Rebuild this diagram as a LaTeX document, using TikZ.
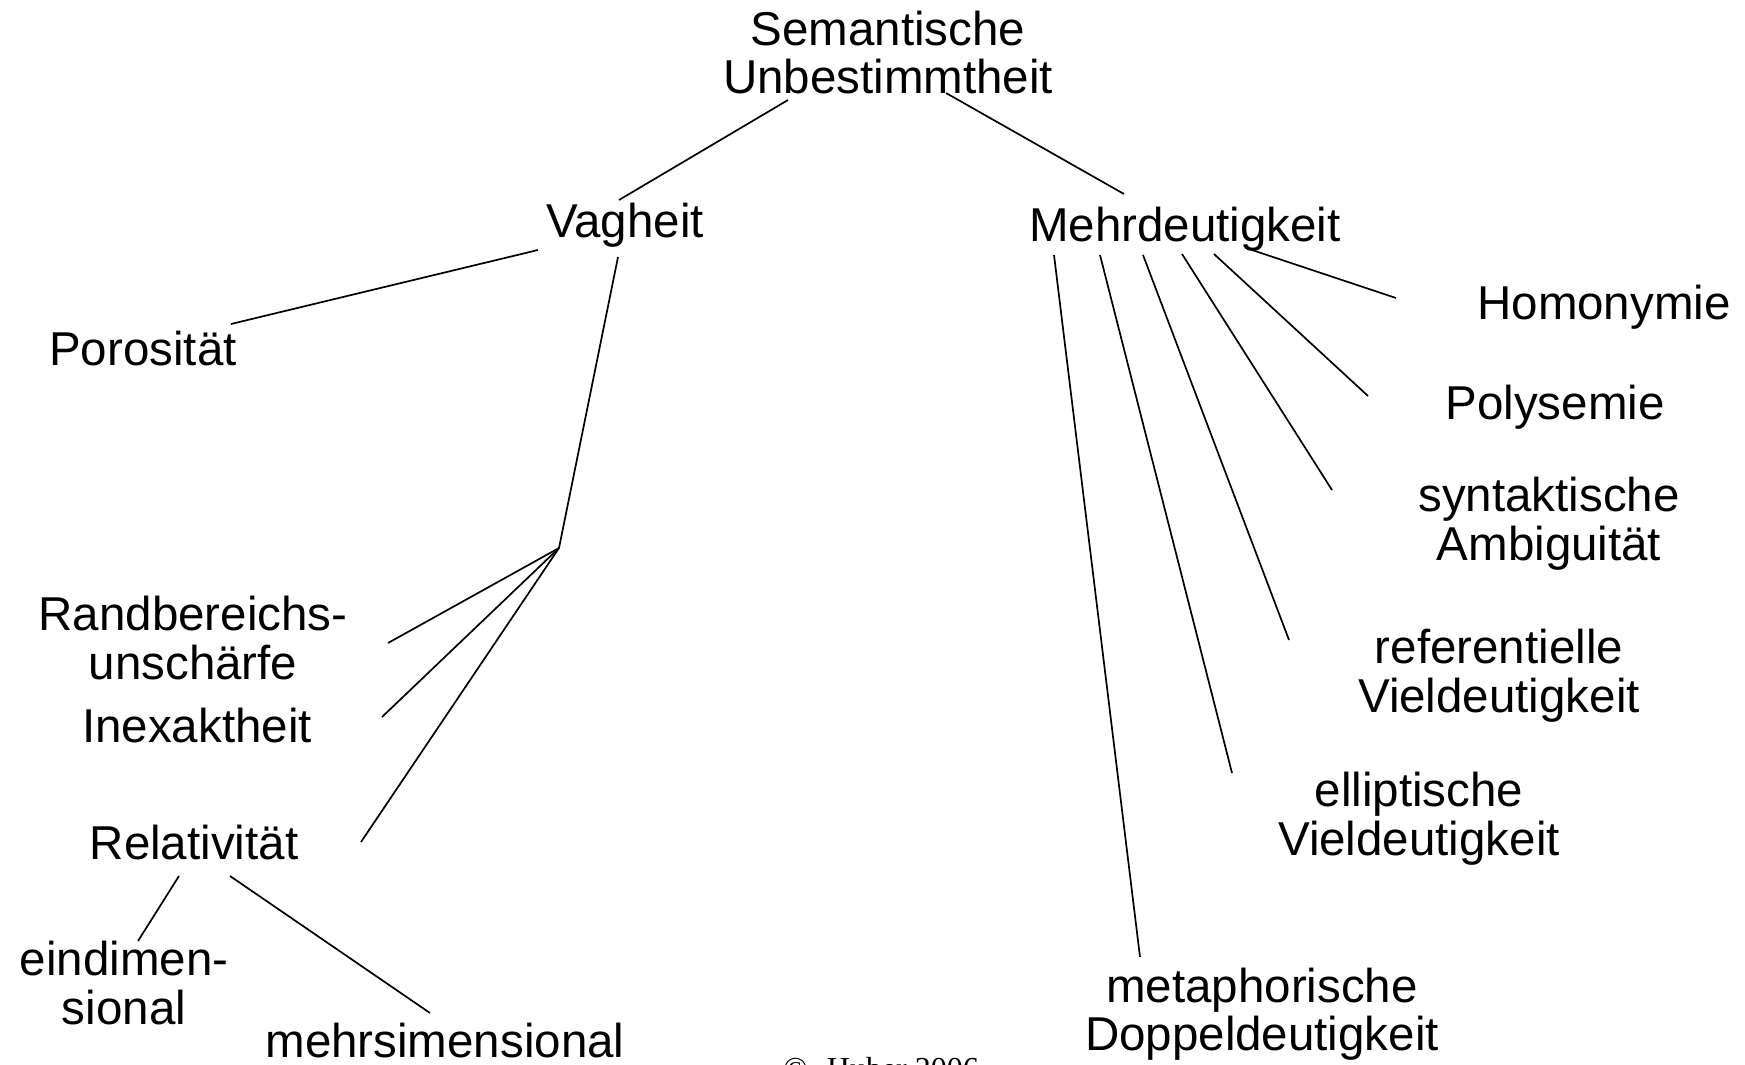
\documentclass[tikz,border=0pt]{standalone}
\usepackage{fontspec}
\setmainfont{Liberation Sans}
\newfontfamily\serifcopy{Liberation Serif}
\begin{document}
\begin{tikzpicture}[x=0.5pt,y=-0.5pt,
  lbl/.style={inner sep=0pt, outer sep=0pt, anchor=base, align=center,
    font=\fontsize{23.75}{24.25}\selectfont},
  edge/.style={line width=0.85pt}]
\useasboundingbox (0,0) rectangle (1745,1065);
\clip (0,0) rectangle (1745,1065);
\fill[white] (0,0) rectangle (1745,1065);

% nodes (positioned by baseline of last line)
\node[lbl] (root) at (888,93.5) {Semantische\\Unbestimmtheit};
\node[lbl] (vag)  at (625,237) {Vagheit};
\node[lbl] (mehr) at (1185,241.5) {Mehrdeutigkeit};
\node[lbl] (poro) at (143,365) {Porosität};
\node[lbl] (rand) at (193,679) {Randbereichs-\\unschärfe};
\node[lbl] (inex) at (197,742) {Inexaktheit};
\node[lbl] (rela) at (194,859) {Relativität};
\node[lbl] (eind) at (124,1024) {eindimen-\\sional};
\node[lbl] (mehrs) at (445,1057) {mehrsimensional};
\node[lbl] (homo) at (1604,319) {Homonymie};
\node[lbl] (poly) at (1555,419.5) {Polysemie};
\node[lbl] (synt) at (1549,560) {syntaktische\\Ambiguität};
\node[lbl] (refe) at (1499,712) {referentielle\\Vieldeutigkeit};
\node[lbl] (elli) at (1419,855) {elliptische\\Vieldeutigkeit};
\node[lbl] (meta) at (1262,1050.5) {metaphorische\\Doppeldeutigkeit};
\node[inner sep=0pt, anchor=base west, font=\serifcopy\fontsize{16}{18}\selectfont] (copy) at (783,1079) {©\hspace{0.6em}Huber 2006};

% connector end points
\coordinate (rootL) at (788,100);   \coordinate (vagT) at (619,200);
\coordinate (rootR) at (946,93);    \coordinate (mehrT) at (1124,194);
\coordinate (vagL) at (538,250);    \coordinate (poroT) at (231,324);
\coordinate (vagB) at (618,257);    \coordinate (junc) at (559,548);
\coordinate (randR) at (388,643);
\coordinate (inexR) at (382,717);
\coordinate (relaR) at (361,842);
\coordinate (relaL) at (179,876);   \coordinate (eindT) at (138,941);
\coordinate (relaB) at (230,876);   \coordinate (mehrsT) at (430,1013);
\coordinate (m1) at (1252,250);     \coordinate (homoL) at (1396,298);
\coordinate (m2) at (1214,254);     \coordinate (polyL) at (1368,396);
\coordinate (m3) at (1182,254);     \coordinate (syntL) at (1332,490);
\coordinate (m4) at (1143,255);     \coordinate (refeL) at (1289,640);
\coordinate (m5) at (1100,255);     \coordinate (elliL) at (1232,773);
\coordinate (m6) at (1054,255);     \coordinate (metaT) at (1140,957);

% connectors
\draw[edge] (rootL) -- (vagT);
\draw[edge] (rootR) -- (mehrT);
\draw[edge] (vagL) -- (poroT);
\draw[edge] (vagB) -- (junc);
\draw[edge] (junc) -- (randR);
\draw[edge] (junc) -- (inexR);
\draw[edge] (junc) -- (relaR);
\draw[edge] (relaL) -- (eindT);
\draw[edge] (relaB) -- (mehrsT);
\draw[edge] (m1) -- (homoL);
\draw[edge] (m2) -- (polyL);
\draw[edge] (m3) -- (syntL);
\draw[edge] (m4) -- (refeL);
\draw[edge] (m5) -- (elliL);
\draw[edge] (m6) -- (metaT);
\end{tikzpicture}
\end{document}
